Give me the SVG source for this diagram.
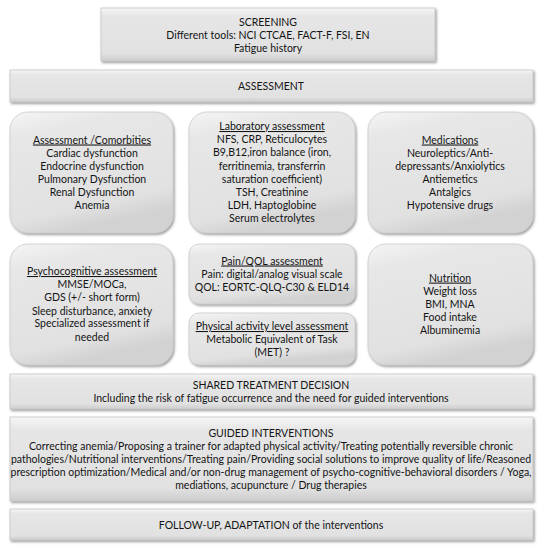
<svg xmlns="http://www.w3.org/2000/svg" width="542" height="550" viewBox="0 0 542 550">
  <defs>
    <linearGradient id="gBar" x1="0" y1="0" x2="0" y2="1">
      <stop offset="0" stop-color="#f6f6f6"/>
      <stop offset="0.15" stop-color="#e6e6e6"/>
      <stop offset="0.85" stop-color="#e1e1e1"/>
      <stop offset="1" stop-color="#cdcdcd"/>
    </linearGradient>
    <linearGradient id="gBox" x1="0" y1="0" x2="0.3" y2="1">
      <stop offset="0" stop-color="#f5f5f5"/>
      <stop offset="0.2" stop-color="#e7e7e7"/>
      <stop offset="0.85" stop-color="#e1e1e1"/>
      <stop offset="1" stop-color="#d2d2d2"/>
    </linearGradient>
    <filter id="sh" x="-10%" y="-10%" width="125%" height="130%">
      <feDropShadow dx="1.3" dy="1.6" stdDeviation="1" flood-color="#5a5a5a" flood-opacity="0.6"/>
    </filter>
  </defs>
  <style>
    .bar { fill: url(#gBar); stroke: #c6c6c6; stroke-width: 0.8; filter: url(#sh); }
    .box { fill: url(#gBox); stroke: #cbcbcb; stroke-width: 0.8; filter: url(#sh); }
    text { font-family: Lato, "Noto Sans", "Liberation Sans", sans-serif; font-size: 10.5px; fill: #141414; text-anchor: middle; }
    .u { text-decoration: underline; }
  </style>
  <rect width="542" height="550" fill="#ffffff"/>

  <g id="screening">
    <rect class="bar" x="101" y="8" width="334" height="53"/>
    <text x="268" y="25.7">SCREENING</text>
    <text x="268" y="39">Different tools: NCI CTCAE, FACT-F, FSI, EN</text>
    <text x="268" y="51.9">Fatigue history</text>
  </g>

  <g id="assessment">
    <rect class="bar" x="10" y="70" width="523" height="32"/>
    <text x="271" y="89.7">ASSESSMENT</text>
  </g>

  <g id="comorbidities">
    <rect class="box" x="10" y="112" width="163" height="121" rx="18"/>
    <text class="u" x="92" y="143.5">Assessment /Comorbities</text>
    <text x="92" y="156.8">Cardiac dysfunction</text>
    <text x="92" y="169.7">Endocrine dysfunction</text>
    <text x="92" y="182.7">Pulmonary Dysfunction</text>
    <text x="92" y="196">Renal Dysfunction</text>
    <text x="92" y="209">Anemia</text>
  </g>

  <g id="laboratory">
    <rect class="box" x="189" y="112" width="166" height="121" rx="18"/>
    <text class="u" x="272" y="130">Laboratory assessment</text>
    <text x="272" y="143.2">NFS, CRP, Reticulocytes</text>
    <text x="272" y="156.3">B9,B12,iron balance (iron,</text>
    <text x="272" y="169.5">ferritinemia, transferrin</text>
    <text x="272" y="182.6">saturation coefficient)</text>
    <text x="272" y="195.8">TSH, Creatinine</text>
    <text x="272" y="208.9">LDH, Haptoglobine</text>
    <text x="272" y="222">Serum electrolytes</text>
  </g>

  <g id="medications">
    <rect class="box" x="368" y="112" width="165" height="121" rx="18"/>
    <text class="u" x="450" y="143.5">Medications</text>
    <text x="450" y="156.8">Neuroleptics/Anti-</text>
    <text x="450" y="169.7">depressants/Anxiolytics</text>
    <text x="450" y="182.7">Antiemetics</text>
    <text x="450" y="196">Antalgics</text>
    <text x="450" y="209">Hypotensive drugs</text>
  </g>

  <g id="psychocognitive">
    <rect class="box" x="10" y="244" width="163" height="121" rx="18"/>
    <text class="u" x="92" y="275">Psychocognitive assessment</text>
    <text x="92" y="288">MMSE/MOCa,</text>
    <text x="92" y="301">GDS (+/- short form)</text>
    <text x="92" y="314.5">Sleep disturbance, anxiety</text>
    <text x="92" y="327.4">Specialized assessment if</text>
    <text x="92" y="340.7">needed</text>
  </g>

  <g id="pain-qol">
    <rect class="box" x="189" y="244" width="166" height="60" rx="10"/>
    <text class="u" x="272" y="264.5">Pain/QOL assessment</text>
    <text x="272" y="277.8">Pain: digital/analog visual scale</text>
    <text x="272" y="290.7">QOL: EORTC-QLQ-C30 &amp; ELD14</text>
  </g>

  <g id="physical-activity">
    <rect class="box" x="189" y="313" width="166" height="52" rx="10"/>
    <text class="u" x="272" y="330">Physical activity level assessment</text>
    <text x="272" y="342.8">Metabolic Equivalent of Task</text>
    <text x="272" y="356">(MET) ?</text>
  </g>

  <g id="nutrition">
    <rect class="box" x="368" y="244" width="165" height="121" rx="18"/>
    <text class="u" x="450" y="281.6">Nutrition</text>
    <text x="450" y="294.6">Weight loss</text>
    <text x="450" y="307.5">BMI, MNA</text>
    <text x="450" y="320.8">Food intake</text>
    <text x="450" y="334">Albuminemia</text>
  </g>

  <g id="shared-decision">
    <rect class="bar" x="10" y="374" width="523" height="35"/>
    <text x="271" y="388.6">SHARED TREATMENT DECISION</text>
    <text x="271" y="402">Including the risk of fatigue occurrence and the need for guided interventions</text>
  </g>

  <g id="guided-interventions">
    <rect class="bar" x="10" y="417" width="523" height="84"/>
    <text x="271" y="436.5">GUIDED INTERVENTIONS</text>
    <text x="271" y="449.8">Correcting anemia/Proposing a trainer for adapted physical activity/Treating potentially reversible chronic</text>
    <text x="271" y="462.7">pathologies/Nutritional interventions/Treating pain/Providing social solutions to improve quality of life/Reasoned</text>
    <text x="271" y="476">prescription optimization/Medical and/or non-drug management of psycho-cognitive-behavioral disorders / Yoga,</text>
    <text x="271" y="489.3">mediations, acupuncture / Drug therapies</text>
  </g>

  <g id="follow-up">
    <rect class="bar" x="10" y="509" width="523" height="31"/>
    <text x="271" y="528.5">FOLLOW-UP, ADAPTATION of the interventions</text>
  </g>

  <g id="connectors"></g>
</svg>
